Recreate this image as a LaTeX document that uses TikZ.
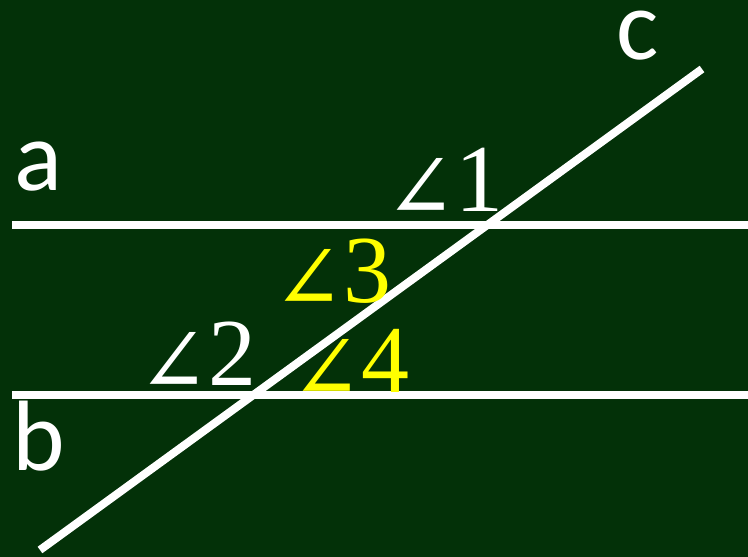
\documentclass[tikz,border=0pt]{standalone}
\usepackage{fontspec}
\usepackage{graphicx}
\setmainfont{Liberation Serif}
\newfontfamily\labfont{Carlito}
\newfontfamily\angfont{DejaVu Serif}
\newcommand{\angsym}{\raisebox{-8pt}{\scalebox{0.8}[0.88]{\angfont\fontsize{105}{105}\selectfont ∠}}}
\definecolor{board}{RGB}{3,49,8}
\definecolor{hl}{RGB}{255,255,0}
\begin{document}
\begin{tikzpicture}[x=1pt,y=-1pt,
  lineseg/.style={white,line width=8pt},
  letter/.style={white,inner sep=0pt,anchor=base west,font=\labfont\fontsize{100}{100}\selectfont},
  anglab/.style={inner sep=0pt,anchor=base west,font=\fontsize{96}{96}\selectfont}]
\fill[board] (0,0) rectangle (748,557);
\useasboundingbox (0,0) rectangle (748,557);
\coordinate (a1) at (12,224.5);
\coordinate (a2) at (748,224.5);
\coordinate (b1) at (12,395);
\coordinate (b2) at (748,395);
\coordinate (c1) at (40,550);
\coordinate (c2) at (702,69);
\draw[lineseg] (a1) -- (a2);
\draw[lineseg] (b1) -- (b2);
\draw[lineseg] (c1) -- (c2);
\node[letter] (la) at (14,190) {a};
\node[letter] (lb) at (12,470) {b};
\node[letter,text height=48pt] (lc) at (616,59) {c};
\node[anglab,white] (n1) at (385,211) {\angsym1};
\node[anglab,hl] (n3) at (273,302) {\angsym3};
\node[anglab,white] (n2) at (138,385) {\angsym2};
\node[anglab,hl] (n4) at (291,392) {\angsym4};
\end{tikzpicture}
\end{document}
